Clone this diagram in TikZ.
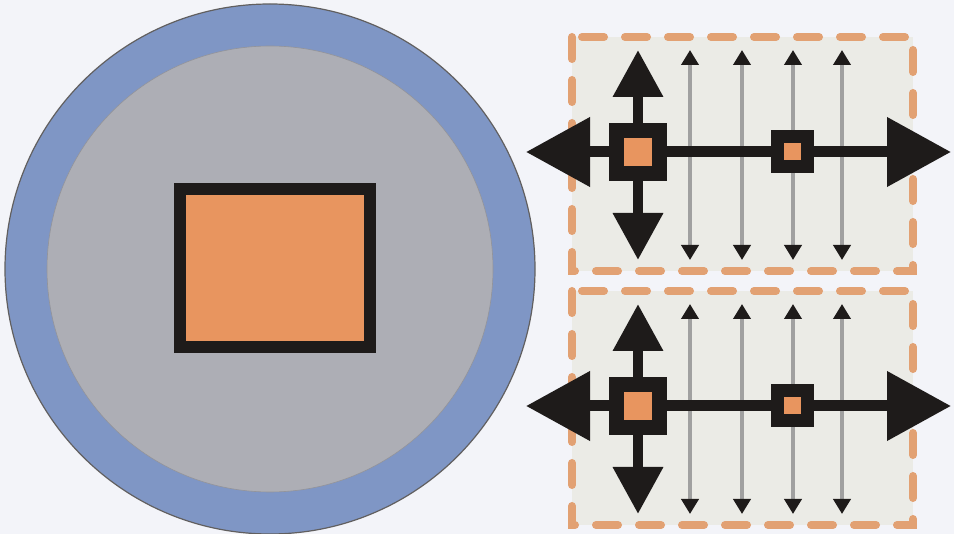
\documentclass[tikz,border=0pt]{standalone}
\usetikzlibrary{arrows.meta}
\definecolor{bg}{HTML}{F3F4F9}
\definecolor{ring}{HTML}{7F96C5}
\definecolor{disk}{HTML}{ADAEB5}
\definecolor{core}{HTML}{E8955F}
\definecolor{ink}{HTML}{1E1B1A}
\definecolor{panel}{HTML}{EBEBE6}
\definecolor{dashc}{HTML}{E2A173}
\definecolor{thin}{HTML}{A0A0A0}
\begin{document}
\begin{tikzpicture}[x=1pt,y=-1pt,
 panelbox/.style={draw=dashc, fill=panel, line width=8pt, dash pattern=on 22pt off 21pt, line cap=round},
 bigsq/.style={draw=ink, fill=core, line width=15pt, minimum size=43pt, inner sep=0pt, shape=rectangle},
 smallsq/.style={draw=ink, fill=core, line width=13pt, minimum size=30pt, inner sep=0pt, shape=rectangle},
 coresq/.style={draw=ink, fill=core, line width=12pt, minimum width=190pt, minimum height=158pt, inner sep=0pt, shape=rectangle},
 mainline/.style={draw=ink, line width=11pt},
 harrow/.style={mainline, -{Triangle[length=64pt,width=67pt]}},
 varrow/.style={draw=ink, line width=10pt, -{Triangle[length=47pt,width=48pt]}},
 thinarrow/.style={draw=thin, line width=4pt, {Triangle[length=15pt,width=17pt,color=ink]}-{Triangle[length=15pt,width=17pt,color=ink]}}
]
\fill[bg] (0,0) rectangle (954,534);
\useasboundingbox (0,0) rectangle (954,534);
% big disk
\draw[fill=ring, draw=ink!70, line width=1.2pt] (270,269) circle[radius=265];
\draw[fill=disk, draw=disk!85!black, line width=0.6pt] (270,269) circle[radius=223];
\node[coresq] (core) at (275,268) {};
% panels
\foreach \p/\dy in {a/0, b/254} {
  \begin{scope}[yshift=-\dy pt]
    \draw[panelbox] (572,37) rectangle (913,271);
    \foreach \i/\x in {1/690, 2/742, 3/793, 4/842} {
      \coordinate (t\p\i) at (\x,50);
      \coordinate (b\p\i) at (\x,260);
      \draw[thinarrow] (b\p\i) -- (t\p\i);
    }
    \coordinate (L\p) at (526,152);
    \coordinate (R\p) at (951,152);
    \coordinate (U\p) at (638,50);
    \coordinate (D\p) at (638,260);
    \node[bigsq] (m\p) at (638,152) {};
    \node[smallsq] (s\p) at (792,152) {};
    \draw[harrow] (m\p.west) -- (L\p);
    \draw[mainline] (m\p.east) -- (s\p.west);
    \draw[harrow] (s\p.east) -- (R\p);
    \draw[varrow] (m\p.north) -- (U\p);
    \draw[varrow] (m\p.south) -- (D\p);
  \end{scope}
}
\end{tikzpicture}
\end{document}
